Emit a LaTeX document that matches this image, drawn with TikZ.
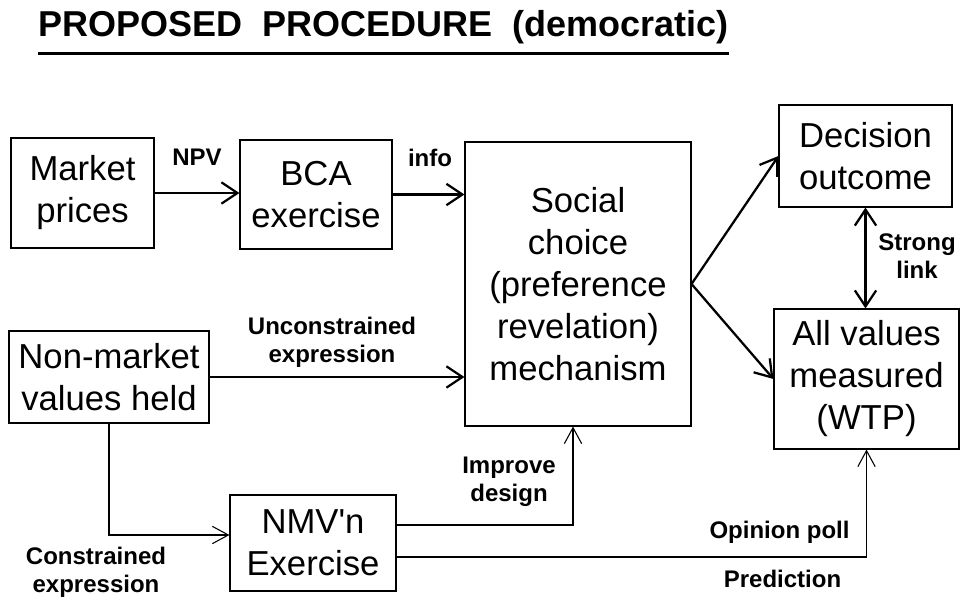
\documentclass[tikz,border=0pt]{standalone}
\usepackage{fontspec}
\setmainfont{Liberation Sans}
\usetikzlibrary{arrows.meta}

\begin{document}
\begin{tikzpicture}[
			x=0.75pt,y=-0.75pt,
			box/.style={draw,line width=0.8pt,inner sep=0pt,align=center,font=\fontsize{26}{31.5}\selectfont},
			lbl/.style={inner sep=0pt,align=center,font=\bfseries\fontsize{18}{21}\selectfont},
			heavy/.style={line width=1.7pt,>={Straight Barb[length=12pt,width=16pt]},->},
			light/.style={line width=0.8pt,>={Straight Barb[length=12pt,width=13pt]},->}
		]
		\useasboundingbox (0,0) rectangle (962,598);
		\node[anchor=base west,inner sep=0pt,font=\bfseries\fontsize{27}{30}\selectfont] (title) at (38,37) {PROPOSED\ \ PROCEDURE\ \ (democratic)};
		\draw[line width=2.2pt] ([yshift=-6.5pt]title.south west) -- ([yshift=-6.5pt]title.south east);

		\node[box,minimum width=107.25pt,minimum height=82.5pt] (market) at (82.5,193) {Market\\prices};
		\node[box,minimum width=114pt,minimum height=81.75pt] (bca) at (316,194.5) {BCA\\exercise};
		\node[box,minimum width=169.5pt,minimum height=213pt] (social) at (578,284) {Social\\choice\\(preference\\revelation)\\mechanism};
		\node[box,minimum width=129.75pt,minimum height=76.5pt] (decision) at (865.5,156) {Decision\\outcome};
		\node[box,minimum width=138.75pt,minimum height=105pt] (allvalues) at (866.5,379) {All values\\measured\\(WTP)};
		\node[box,minimum width=150pt,minimum height=69pt] (nonmarket) at (109,377) {Non-market\\values held};
		\node[box,minimum width=124.5pt,minimum height=72pt] (nmv) at (313,543) {NMV\textquotesingle n\\Exercise};

		\draw[heavy] (market.east) -- (market.east -| bca.west);
		\draw[heavy] (bca.east) -- (bca.east -| social.west);
		\draw[heavy] (nonmarket.east) -- (nonmarket.east -| social.west);
		\draw[heavy] (social.east) -- (decision.west);
		\draw[heavy] (social.east) -- (allvalues.west);
		\draw[heavy,<->] (decision.south) -- (decision.south |- allvalues.north);
		\draw[light] (nonmarket.south) |- ([yshift=6pt]nmv.west);
		\draw[light] ([yshift=13.5pt]nmv.east) -| ([xshift=-3.75pt]social.south);
		\draw[light] ([yshift=-10.5pt]nmv.east) -| (allvalues.south);

		\node[lbl] (npv) at (197,157.5) {NPV};
		\node[lbl] (info) at (430,157.5) {info};
		\node[lbl] (unconstr) at (332,342) {Unconstrained\\expression};
		\node[lbl] (strong) at (917,256) {Strong\\link};
		\node[lbl] (improve) at (509,482) {Improve\\design};
		\node[lbl] (poll) at (779.5,532.5) {Opinion poll};
		\node[lbl] (predict) at (782.5,579) {Prediction};
		\node[lbl] (constr) at (96,572) {Constrained\\expression};
\end{tikzpicture}
\end{document}
